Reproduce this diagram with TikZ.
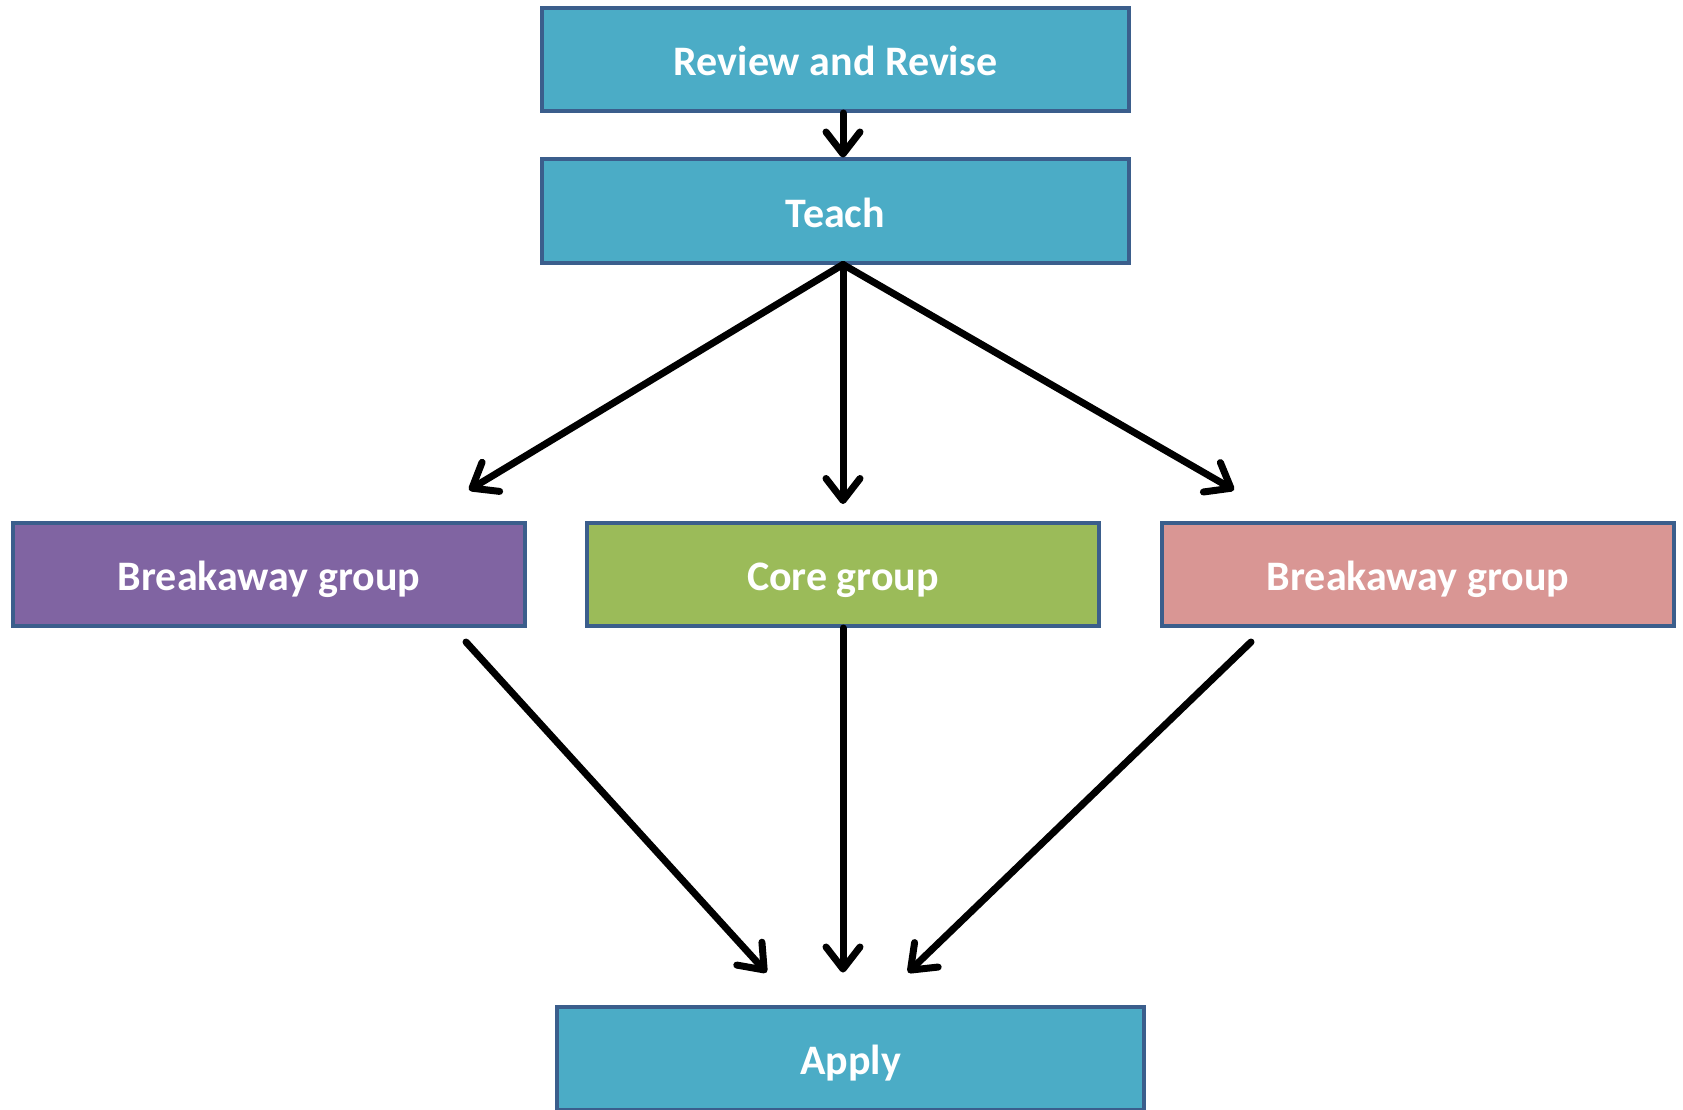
\documentclass[tikz,border=0pt]{standalone}
\usepackage{fontspec}
\setmainfont{Carlito}
\usetikzlibrary{arrows.meta,calc}
\definecolor{teal}{HTML}{4BACC6}
\definecolor{edge}{HTML}{3B5E8C}
\definecolor{purp}{HTML}{8064A2}
\definecolor{grn}{HTML}{9BBB59}
\definecolor{pnk}{HTML}{D99694}
\tikzset{
  box/.style={draw=edge, line width=4pt, rectangle, minimum height=103pt,
    text=white, font=\fontsize{42}{50}\selectfont\bfseries, inner sep=0pt,
    text height=32pt, text depth=0pt},
  wide/.style={minimum width=587pt},
  narrow/.style={minimum width=512pt},
  conn/.style={line width=7pt, line cap=round,
    -{Straight Barb[length=22pt,width=34pt,line cap=round,line join=round]}}
}
\begin{document}
\begin{tikzpicture}[x=1pt,y=-1pt]
\useasboundingbox (0,0) rectangle (1683,1110);
\node[box,wide,fill=teal] (review) at (835.5,59.5) {Review and Revise};
\node[box,wide,fill=teal] (teach) at (835.5,211) {Teach};
\node[box,narrow,fill=purp] (bl) at (269,574.5) {Breakaway group};
\node[box,narrow,fill=grn] (core) at (843,574.5) {Core group};
\node[box,narrow,fill=pnk] (br) at (1418,574.5) {Breakaway group};
\node[box,wide,fill=teal] (apply) at (850.5,1058) {Apply};

\coordinate (ts) at (teach.south -| core.north);
\coordinate (tl) at ($(bl.north east)+(-58,-31)$);
\coordinate (tc) at ($(core.north)+(0,-17)$);
\coordinate (tr) at ($(br.north west)+(74,-31)$);
\coordinate (bls) at ($(bl.south east)+(-61,14)$);
\coordinate (brs) at ($(br.south west)+(91,14)$);
\coordinate (al) at ($(apply.north)+(-84,-32)$);
\coordinate (ac) at ($(apply.north)+(-7.5,-32)$);
\coordinate (ar) at ($(apply.north)+(57.5,-32)$);

\draw[conn] (review.south -| core.north) -- (teach.north -| core.north);
\draw[conn] (ts) -- (tl);
\draw[conn] (ts) -- (tc);
\draw[conn] (ts) -- (tr);
\draw[conn] (bls) -- (al);
\draw[conn] (core.south) -- (ac);
\draw[conn] (brs) -- (ar);
\end{tikzpicture}
\end{document}
